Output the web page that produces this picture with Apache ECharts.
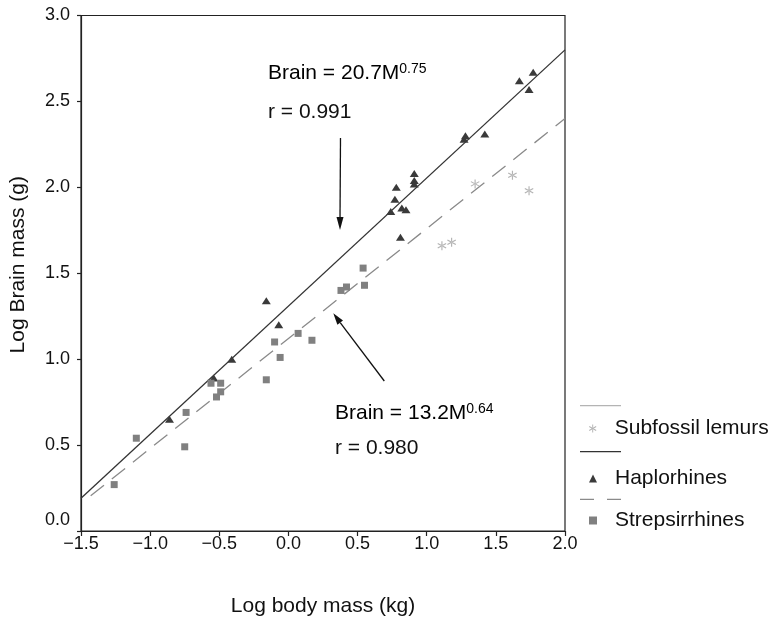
<!DOCTYPE html>
<html>
<head>
<meta charset="utf-8">
<script src="https://cdn.jsdelivr.net/npm/echarts@6/dist/echarts.min.js"></script>
<style>
html,body{margin:0;padding:0;background:#fff;}
#c{width:773px;height:622px;}
</style>
</head>
<body>
<div id="c"></div>
<script>
// ---- data ----
var xTicks = [-1.5, -1.0, -0.5, 0.0, 0.5, 1.0, 1.5, 2.0];
var yTicks = [0.0, 0.5, 1.0, 1.5, 2.0, 2.5, 3.0];

var haplorhines = [
  [-0.86, 0.65], [-0.54, 0.89], [-0.41, 1.00], [-0.16, 1.34], [-0.07, 1.20],
  [0.74, 1.86], [0.77, 1.93], [0.78, 2.00], [0.82, 1.88], [0.85, 1.87],
  [0.81, 1.71], [0.91, 2.08], [0.91, 2.04], [0.91, 2.02], [1.27, 2.28],
  [1.28, 2.30], [1.42, 2.31], [1.67, 2.62], [1.77, 2.67], [1.74, 2.57]
];
var strepsirrhines = [
  [-1.26, 0.27], [-1.10, 0.54], [-0.74, 0.69], [-0.75, 0.49], [-0.56, 0.86],
  [-0.49, 0.86], [-0.49, 0.81], [-0.52, 0.78], [-0.16, 0.88], [-0.10, 1.10],
  [-0.06, 1.01], [0.07, 1.15], [0.17, 1.11], [0.38, 1.40], [0.42, 1.42],
  [0.54, 1.53], [0.55, 1.43]
];
var subfossilLemurs = [
  [1.35, 2.02], [1.62, 2.07], [1.74, 1.98], [1.11, 1.66], [1.18, 1.68]
];
var haploFit = [[-1.5, 0.19], [2.0, 2.80]];
var strepFit = [[-1.43, 0.205], [2.0, 2.40]];

var seriesNames = ['Subfossil lemurs', 'Haplorhines', 'Strepsirrhines'];
var annotations = {
  haploEq: ['Brain = 20.7M', '0.75', 'r = 0.991'],
  strepEq: ['Brain = 13.2M', '0.64', 'r = 0.980']
};
// ---- end data ----

var FONT = "'Liberation Sans', Arial, Helvetica, sans-serif";
var asteriskPath = 'path://M-0.6,-5L0.6,-5L0.6,5L-0.6,5Z' +
  'M4.03,3.02L4.63,1.98L-4.03,-3.02L-4.63,-1.98Z' +
  'M4.63,-1.98L4.03,-3.02L-4.63,1.98L-4.03,3.02Z';

function fmt(v) {
  return v.toFixed(1).replace('-', '\u2212');
}

var chart = echarts.init(document.getElementById('c'), null, {renderer: 'canvas'});

function legendAt(name, top) {
  return {
    data: [name],
    left: 589,
    top: top,
    orient: 'vertical',
    padding: 0,
    itemWidth: 8,
    itemHeight: 8,
    selectedMode: false,
    textStyle: {fontFamily: FONT, fontSize: 21, color: '#111', padding: [0, 0, 0, 13]}
  };
}

var option = {
  animation: false,
  backgroundColor: '#fff',
  grid: {left: 80, right: 208, top: 15.5, bottom: 90, show: true, borderColor: '#222', borderWidth: 1.2},
  legend: [
    legendAt(seriesNames[0], 418),
    legendAt(seriesNames[1], 468),
    legendAt(seriesNames[2], 510)
  ],
  xAxis: {
    type: 'value', min: xTicks[0], max: xTicks[xTicks.length - 1], interval: 0.5,
    name: 'Log body mass (kg)', nameLocation: 'middle', nameGap: 65,
    nameTextStyle: {fontFamily: FONT, fontSize: 21, color: '#111'},
    axisLine: {onZero: false, lineStyle: {color: '#222', width: 1.2}},
    axisTick: {length: 5, lineStyle: {color: '#222', width: 1.2}},
    axisLabel: {margin: 4, fontFamily: FONT, fontSize: 18, color: '#111', formatter: fmt},
    splitLine: {show: false}
  },
  yAxis: {
    type: 'value', min: yTicks[0], max: yTicks[yTicks.length - 1], interval: 0.5,
    name: 'Log Brain mass (g)', nameLocation: 'middle', nameGap: 52,
    nameTextStyle: {fontFamily: FONT, fontSize: 21, color: '#111', padding: [0, 0, 0, 17]},
    axisLine: {onZero: false, lineStyle: {color: '#222', width: 1.2}},
    axisTick: {length: 4, lineStyle: {color: '#222', width: 1.2}},
    axisLabel: {
      margin: 11, fontFamily: FONT, fontSize: 18, color: '#111',
      formatter: function (v) { return v === 0 ? '{up|' + fmt(v) + '}' : fmt(v); },
      rich: {up: {fontFamily: FONT, fontSize: 18, color: '#111', padding: [0, 0, 22, 0]}}
    },
    splitLine: {show: false}
  },
  series: [
    {
      name: 'HaploFit', type: 'line', data: haploFit, symbol: 'none', silent: true,
      lineStyle: {color: '#333', width: 1.3}, z: 1
    },
    {
      name: 'StrepFit', type: 'line', data: strepFit, symbol: 'none', silent: true,
      lineStyle: {color: '#8a8a8a', width: 1.3, type: [17, 10]}, z: 1
    },
    {
      name: seriesNames[0], type: 'scatter', data: subfossilLemurs,
      symbol: asteriskPath, symbolSize: 9,
      itemStyle: {color: '#b4b4b4', opacity: 1}, z: 3
    },
    {
      name: seriesNames[1], type: 'scatter', data: haplorhines,
      symbol: 'triangle', symbolSize: [9, 7],
      itemStyle: {color: '#3a3a3a', opacity: 1}, z: 3
    },
    {
      name: seriesNames[2], type: 'scatter', data: strepsirrhines,
      symbol: 'rect', symbolSize: 7,
      itemStyle: {color: '#808080', opacity: 1}, z: 3
    }
  ],
  graphic: [
    // annotation texts
    {type: 'text', x: 268, y: 73, style: {
      text: '{a|' + annotations.haploEq[0] + '}{s|' + annotations.haploEq[1] + '}',
      verticalAlign: 'middle',
      rich: {a: {fontFamily: FONT, fontSize: 21, color: '#111', lineHeight: 22},
             s: {fontFamily: FONT, fontSize: 14, color: '#111', verticalAlign: 'top', lineHeight: 14}}
    }},
    {type: 'text', x: 268, y: 112.5, style: {text: annotations.haploEq[2], font: '21px ' + FONT, fill: '#111', verticalAlign: 'middle'}},
    {type: 'text', x: 335, y: 413, style: {
      text: '{a|' + annotations.strepEq[0] + '}{s|' + annotations.strepEq[1] + '}',
      verticalAlign: 'middle',
      rich: {a: {fontFamily: FONT, fontSize: 21, color: '#111', lineHeight: 22},
             s: {fontFamily: FONT, fontSize: 14, color: '#111', verticalAlign: 'top', lineHeight: 14}}
    }},
    {type: 'text', x: 335, y: 448.5, style: {text: annotations.strepEq[2], font: '21px ' + FONT, fill: '#111', verticalAlign: 'middle'}},
    // arrows
    {type: 'line', shape: {x1: 340.5, y1: 138, x2: 340, y2: 219}, style: {stroke: '#111', lineWidth: 1.3}},
    {type: 'polygon', shape: {points: [[336.5, 217], [343.5, 217], [340, 230]]}, style: {fill: '#111'}},
    {type: 'line', shape: {x1: 384.3, y1: 381, x2: 340.2, y2: 322.6}, style: {stroke: '#111', lineWidth: 1.3}},
    {type: 'polygon', shape: {points: [[343, 320.5], [337.4, 324.7], [333.3, 313.3]]}, style: {fill: '#111'}},
    // legend line samples
    {type: 'line', shape: {x1: 580, y1: 405.7, x2: 621, y2: 405.7}, style: {stroke: '#b4b4b4', lineWidth: 1.3}},
    {type: 'line', shape: {x1: 580, y1: 451.7, x2: 621, y2: 451.7}, style: {stroke: '#333', lineWidth: 1.3}},
    {type: 'line', shape: {x1: 580, y1: 499.3, x2: 621, y2: 499.3}, style: {stroke: '#8a8a8a', lineWidth: 1.3, lineDash: [14, 13]}}
  ]
};
chart.setOption(option);
</script>
</body>
</html>
